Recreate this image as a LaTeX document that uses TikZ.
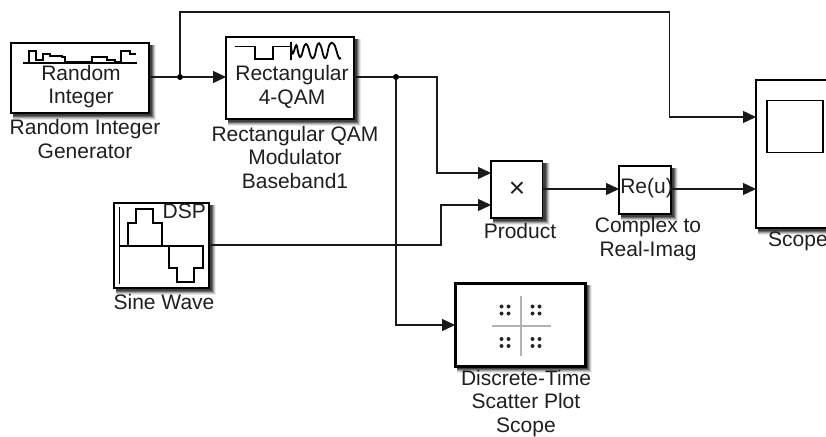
\documentclass[tikz,border=0pt]{standalone}
\usepackage{fontspec}
\setmainfont{Liberation Sans}
\usetikzlibrary{arrows.meta}
\newcommand{\softshade}[4]{%
  \fill[black!8] (#1+2,#2+2) rectangle (#3+7,#4+7);
  \fill[black!20] (#1+2,#2+2) rectangle (#3+6,#4+6);
  \fill[black!38] (#1+2,#2+2) rectangle (#3+5,#4+5);
  \fill[black!58] (#1+2,#2+2) rectangle (#3+4,#4+4);
  \fill[black!75] (#1+2,#2+2) rectangle (#3+3,#4+3);
}
\tikzset{
  block/.style={draw=black,line width=1.5pt,fill=white,anchor=north west,inner sep=0pt,outer sep=0pt,minimum width=#1},
  wire/.style={line width=1.3pt,draw=black!90},
  arrowwire/.style={wire,-{Triangle[length=13pt,width=12pt]},shorten >=0pt},
  dotj/.style={circle,fill=black,inner sep=0pt,minimum size=6pt},
  lbl/.style={font=\fontsize{21}{23.5}\selectfont,align=center,text=black!88,inner sep=0pt},
  icon/.style={line width=1.5pt,draw=black},
  tick/.style={fill=black!85,inner sep=0pt,minimum size=4pt,circle},
}
\begin{document}
\begin{tikzpicture}[x=1pt,y=-1pt]
\useasboundingbox (0,0) rectangle (826,436);
\fill[white] (0,0) rectangle (826,436);
% soft shadows
\softshade{11}{43}{149}{113}
\softshade{226}{37}{354}{119}
\softshade{114}{203}{209}{288}
\softshade{491}{161}{542.5}{218}
\softshade{619}{166}{671}{214}
\softshade{455}{283}{585}{366}
\softshade{756}{80}{840}{228}
% blocks
\node[block=138pt,minimum height=70pt] (ri) at (11,43) {};
\node[block=128pt,minimum height=82pt] (qam) at (226,37) {};
\node[block=95pt,minimum height=85pt] (sine) at (114,203) {};
\node[block=51.5pt,minimum height=57pt] (prod) at (491,161) {};
\node[block=52pt,minimum height=48pt] (re) at (619,166) {};
\node[block=130pt,minimum height=83pt,line width=3pt] (scat) at (455,283) {};
\node[block=90pt,minimum height=148pt] (scope) at (756,80) {};
% scope screen
\node[draw=black,line width=1.3pt,fill=white,anchor=north west,inner sep=0pt,outer sep=0pt,minimum width=56pt,minimum height=52pt] (screen) at (767,100.7) {};
% block texts
\node[lbl] (ritxt) at (81,86.5) {Random\\Integer};
\node[lbl] (qamtxt) at (292,87) {Rectangular\\4-QAM};
\node[lbl,anchor=north east] (dsp) at (206,204) {DSP};
\node[lbl,font=\fontsize{28}{28}\selectfont] (x) at (517,190) {×};
\node[lbl] (retxt) at (646.5,188) {Re(u)};
% titles
\node[lbl] (t1) at (85,139) {Random Integer\\Generator};
\node[lbl] (t2) at (295,157) {Rectangular QAM\\Modulator\\Baseband1};
\node[lbl] (t3) at (164,302) {Sine Wave};
\node[lbl] (t4) at (520,231) {Product};
\node[lbl] (t5) at (648,239) {Complex to\\Real-Imag};
\node[lbl,anchor=west] (t6) at (768,241) {Scope};
\node[lbl] (t7) at (526,403.5) {Discrete-Time\\Scatter Plot\\Scope};
% wires
\node[dotj] (j1) at (180,77) {};
\node[dotj] (j2) at (396,77) {};
\coordinate (a1) at (180,12);
\coordinate (a2) at (669.5,12);
\coordinate (a3) at (669.5,117);
\coordinate (b1) at (437,77);
\coordinate (b2) at (437,173);
\coordinate (c1) at (396,325);
\coordinate (d1) at (441,245);
\coordinate (d2) at (441,205);
\draw[wire] (ri.east |- j1) -- (j1);
\draw[arrowwire] (j1) -- (qam.west |- j1);
\draw[wire] (qam.east |- j2) -- (j2);
\draw[arrowwire] (j1) -- (a1) -- (a2) -- (a3) -- (scope.west |- a3);
\draw[arrowwire] (j2) -- (b1) -- (b2) -- (prod.west |- b2);
\draw[arrowwire] (j2) -- (c1) -- (scat.west |- c1);
\draw[arrowwire] (sine.east |- d1) -- (d1) -- (d2) -- (prod.west |- d2);
\draw[arrowwire] (prod.east |- 0,189) -- (re.west |- 0,189);
\draw[arrowwire] (re.east |- 0,189) -- (scope.west |- 0,189);
% Random integer icon
\draw[icon] (23,63) -- (137,63);
\draw[icon] (29,63) -- (29,51) -- (36,51) -- (36,60) -- (43,60) -- (43,54) -- (50,54) -- (50,56) -- (62,56) -- (62,57) -- (65,57) -- (65,61.5) -- (92,61.5) -- (92,57) -- (107,57) -- (107,60) -- (115,60) -- (115,61.5) -- (121,61.5) -- (121,51) -- (130,51) -- (130,54) -- (136,54);
% QAM icon
\draw[icon] (235,46.5) -- (255,46.5) -- (255,59) -- (273,59) -- (273,46.5) -- (291,46.5);
\draw[icon,line width=1.8pt] (291,42) -- (291,60) (291,46) .. controls (293,66) and (295,40) .. (297,46) .. controls (299,60) and (301,60) .. (303,50)
  .. controls (305,42) and (307,42) .. (309,50) .. controls (311,60) and (314,62) .. (316,50) .. controls (318,40) and (320,42) .. (322,50) .. controls (324,60) and (326,62) .. (328,50) .. controls (330,40) and (333,42) .. (335,46) .. controls (337,52) and (339,62) .. (341,58);
% Sine icon
\draw[icon] (119.5,207) -- (119.5,284);
\draw[icon] (119.5,246) -- (204,246);
\draw[icon] (128,246) -- (128,223) -- (136,223) -- (136,209) -- (153,209) -- (153,223) -- (162,223) -- (162,246);
\draw[icon] (169,246) -- (169,268) -- (177,268) -- (177,282) -- (194,282) -- (194,268) -- (203,268) -- (203,246);
% Scatter icon
\draw[line width=1.8pt,draw=black!30] (520.7,296) -- (520.7,356) (492,325.7) -- (551,325.7);
\foreach \cx/\cy in {505/310,536/310,505/342.5,536/342.5}{
  \foreach \dx in {-3.5,3.5}{\foreach \dy in {-3.5,3.5}{
    \node[tick] at (\cx+\dx,\cy+\dy) {};
  }}
}
\end{tikzpicture}
\end{document}
